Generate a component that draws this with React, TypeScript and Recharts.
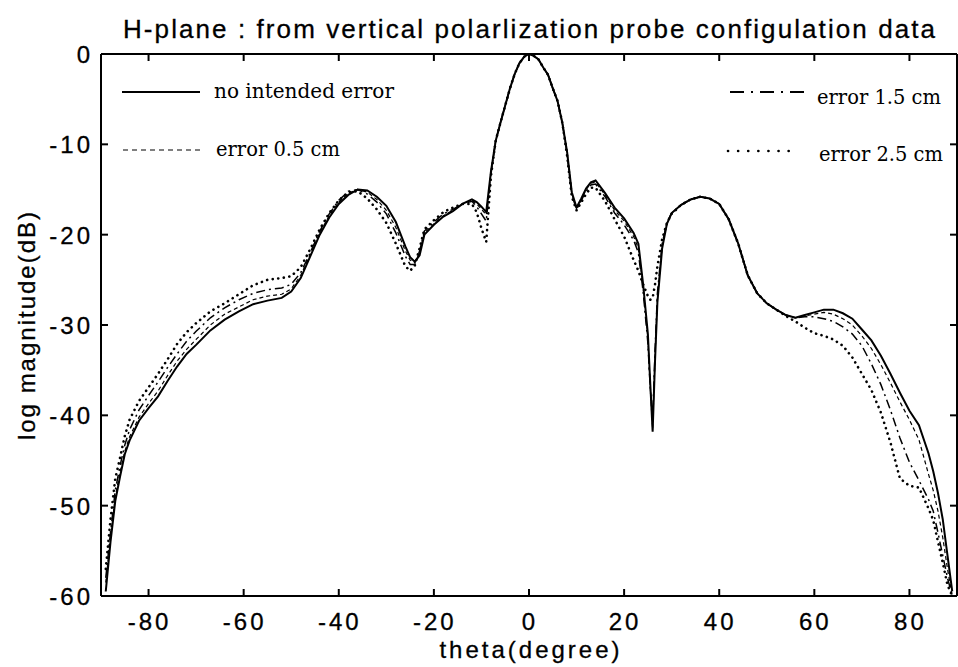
import React from 'react';
import { LineChart, Line, XAxis, YAxis, ReferenceLine } from 'recharts';

// angle grid (degree) shared by all four traces
const theta = [
  -89, -88, -87, -86, -85, -84, -82, -80, -78, -76, -74, -72, -70, -67, -64, -61, -58, -55, -52, -50,
  -48, -46, -44, -42, -40, -38, -36, -34, -32, -30, -28, -26, -25, -24, -23, -22, -20, -18, -16, -14,
  -12, -11, -10, -9, -8, -7, -6, -5, -4, -3, -2, -1, 0, 1, 2, 3, 4, 5, 6, 7,
  8, 9, 10, 11, 12, 13, 14, 16, 18, 20, 22, 23, 24, 25, 25.5, 26, 26.5, 27, 28, 29,
  30, 32, 34, 36, 38, 40, 42, 44, 46, 48, 50, 52, 54, 56, 58, 60, 62, 64, 66, 68,
  70, 72, 74, 76, 78, 80, 82, 84, 85, 86, 87, 88, 89,
];

const noError = [
  -59.5, -54, -49.5, -46.8, -44.3, -42.8, -40.6, -39.2, -37.9, -36.2, -34.6, -33.2, -32.2, -30.6, -29.4, -28.5, -27.7, -27.3, -27.0, -26.3,
  -24.8, -22.4, -20.0, -18.1, -16.6, -15.6, -15.0, -15.1, -15.8, -16.8, -18.6, -21.3, -22.5, -23.0, -22.3, -20.0, -18.9, -18.0, -17.4, -16.6,
  -16.1, -16.4, -16.9, -17.5, -13.0, -9.6, -7.6, -5.7, -3.8, -2.2, -1.0, -0.3, 0, -0.2, -0.6, -1.5, -2.3, -3.8, -5.2, -7.6,
  -10.8, -15.3, -17.0, -16.0, -14.9, -14.2, -14.0, -15.4, -17.0, -18.2, -19.8, -21.0, -25.5, -31.0, -36.5, -41.8, -34.0, -27.5, -21.5, -18.8,
  -17.6, -16.7, -16.1, -15.8, -16.0, -16.6, -18.3, -21.0, -24.5, -26.5, -27.6, -28.3, -28.9, -29.2, -28.9, -28.6, -28.3, -28.3, -28.7, -29.3,
  -30.5, -31.7, -33.4, -35.4, -37.5, -39.5, -41.1, -44.2, -46.2, -48.6, -51.5, -55.5, -59.5,
];

const error05 = [
  -58.5, -53.5, -49.0, -46.3, -44.0, -42.4, -40.2, -38.7, -37.3, -35.6, -34.0, -32.7, -31.6, -30.0, -28.8, -28.0, -27.2, -26.8, -26.6, -26.0,
  -24.5, -22.2, -19.8, -17.9, -16.4, -15.4, -15.0, -15.3, -16.1, -17.3, -19.2, -21.8, -22.8, -23.1, -22.0, -19.8, -18.8, -17.9, -17.3, -16.6,
  -16.2, -16.6, -17.2, -17.8, -13.2, -9.6, -7.6, -5.7, -3.8, -2.2, -1.0, -0.3, 0, -0.2, -0.6, -1.5, -2.3, -3.8, -5.2, -7.6,
  -10.9, -15.5, -17.1, -16.1, -15.0, -14.3, -14.2, -15.6, -17.3, -18.5, -20.2, -21.5, -25.8, -31.5, -37.0, -41.5, -33.5, -27.0, -21.3, -18.8,
  -17.6, -16.7, -16.1, -15.8, -16.0, -16.6, -18.3, -21.0, -24.5, -26.5, -27.6, -28.3, -28.9, -29.2, -29.0, -28.8, -28.6, -28.8, -29.3, -30.0,
  -31.2, -32.6, -34.4, -36.4, -38.5, -40.5, -42.7, -46.5, -48.3, -50.6, -53.5, -57.0, -60.0,
];

const error15 = [
  -58.0, -53.0, -48.3, -45.6, -43.3, -41.6, -39.4, -37.8, -36.3, -34.7, -33.2, -31.8, -30.7, -29.2, -28.1, -27.2, -26.5, -26.1, -25.9, -25.5,
  -24.2, -22.0, -19.6, -17.7, -16.2, -15.2, -15.0, -15.5, -16.4, -17.7, -19.8, -22.4, -23.3, -23.3, -21.8, -19.6, -18.6, -17.7, -17.2, -16.6,
  -16.3, -16.9, -17.7, -18.5, -13.3, -9.6, -7.6, -5.7, -3.8, -2.2, -1.0, -0.3, 0, -0.2, -0.6, -1.5, -2.3, -3.8, -5.2, -7.6,
  -11.0, -15.6, -17.2, -16.2, -15.2, -14.5, -14.4, -15.8, -17.6, -18.9, -20.6, -22.0, -26.3, -32.0, -37.0, -40.5, -33.0, -26.5, -21.0, -18.7,
  -17.6, -16.7, -16.1, -15.8, -16.0, -16.6, -18.3, -21.0, -24.5, -26.5, -27.6, -28.3, -28.9, -29.2, -29.1, -29.1, -29.3, -29.6, -30.2, -31.0,
  -32.3, -34.3, -36.6, -39.4, -42.5, -45.2, -47.2, -49.3, -50.6, -53.0, -55.5, -58.0, -60.0,
];

const error25 = [
  -57.0, -51.5, -47.0, -44.7, -42.3, -40.5, -38.4, -36.9, -35.4, -33.8, -32.1, -30.8, -29.8, -28.5, -27.6, -26.6, -25.6, -25.0, -24.8, -24.6,
  -23.6, -21.6, -19.4, -17.6, -16.2, -15.3, -15.2, -16.0, -17.2, -18.7, -21.0, -23.5, -24.0, -23.4, -21.5, -19.4, -18.4, -17.5, -17.0, -16.6,
  -16.6, -17.5, -19.3, -20.8, -13.5, -9.6, -7.6, -5.7, -3.8, -2.2, -1.0, -0.3, 0, -0.2, -0.6, -1.5, -2.3, -3.8, -5.2, -7.6,
  -11.2, -15.8, -17.3, -16.4, -15.5, -14.8, -14.8, -16.3, -18.3, -20.2, -22.8, -24.0, -25.5, -26.8, -27.2, -27.0, -25.5, -23.5, -20.5, -18.7,
  -17.7, -16.7, -16.1, -15.8, -16.0, -16.6, -18.3, -21.0, -24.5, -26.5, -27.6, -28.3, -29.0, -29.6, -30.3, -30.9, -31.2, -31.6, -32.3, -33.6,
  -35.4, -37.2, -39.7, -43.0, -47.0, -47.8, -48.0, -50.3, -51.6, -54.0, -56.3, -58.8, -60.0,
];

const xTicks = [-80, -60, -40, -20, 0, 20, 40, 60, 80];
const yTicks = [0, -10, -20, -30, -40, -50, -60];

const data = theta.map((t, i) => ({
  theta: t,
  noError: noError[i],
  error05: error05[i],
  error15: error15[i],
  error25: error25[i],
}));

// plot box
const TOP = 54;
const BOTTOM = 596;
const LEFT = 101;
const RIGHT = 957;
const TICK = 7;

const sans = '"Liberation Sans", Arial, sans-serif';
const serif = '"DejaVu Serif", serif';

const XTick = (props: any) => {
  const { x, payload } = props;
  return (
    <g>
      <line x1={x} x2={x} y1={BOTTOM} y2={BOTTOM - TICK} stroke="#000" strokeWidth={2} />
      <line x1={x} x2={x} y1={TOP} y2={TOP + TICK} stroke="#000" strokeWidth={2} />
      <text x={x + 1} y={630} textAnchor="middle" fontFamily={sans} fontSize={24} letterSpacing={3} fill="#000" stroke="#000" strokeWidth={0.3}>
        {payload.value}
      </text>
    </g>
  );
};

const YTick = (props: any) => {
  const { y, payload } = props;
  return (
    <g>
      <line x1={LEFT} x2={LEFT + TICK} y1={y} y2={y} stroke="#000" strokeWidth={2} />
      <line x1={RIGHT} x2={RIGHT - TICK} y1={y} y2={y} stroke="#000" strokeWidth={2} />
      <text x={93} y={y + 9} textAnchor="end" fontFamily={sans} fontSize={24} letterSpacing={3} fill="#000" stroke="#000" strokeWidth={0.3}>
        {payload.value}
      </text>
    </g>
  );
};

export default function App() {
  return (
    <div style={{ position: 'absolute', left: 0, top: 0, width: 958, height: 667, background: '#fff' }}>
      <LineChart width={958} height={667} data={data} margin={{ top: TOP, right: 958 - RIGHT, bottom: 0, left: 0 }}>
        <XAxis
          dataKey="theta"
          type="number"
          domain={[-90, 90]}
          ticks={xTicks}
          allowDataOverflow
          height={667 - BOTTOM}
          axisLine={{ stroke: '#000', strokeWidth: 2 }}
          tickLine={false}
          tick={<XTick />}
        />
        <YAxis
          type="number"
          domain={[-60, 0]}
          ticks={yTicks}
          allowDataOverflow
          width={LEFT}
          axisLine={{ stroke: '#000', strokeWidth: 2 }}
          tickLine={false}
          tick={<YTick />}
        />
        <ReferenceLine y={0} stroke="#000" strokeWidth={2} />
        <ReferenceLine x={90} stroke="#000" strokeWidth={2} />
        <Line dataKey="error25" stroke="#000" strokeWidth={2.6} strokeDasharray="0.1 5.5" strokeLinecap="round" dot={false} isAnimationActive={false} />
        <Line dataKey="error15" stroke="#000" strokeWidth={1.5} strokeDasharray="9 4 2 4" dot={false} isAnimationActive={false} />
        <Line dataKey="error05" stroke="#000" strokeWidth={1.2} strokeDasharray="4 3" dot={false} isAnimationActive={false} />
        <Line dataKey="noError" stroke="#000" strokeWidth={2} dot={false} isAnimationActive={false} />
      </LineChart>
      <svg width={958} height={667} style={{ position: 'absolute', left: 0, top: 0, pointerEvents: 'none' }}>
        <text x={529} y={38} textAnchor="middle" fontFamily={sans} fontSize={26} textLength={812} lengthAdjust="spacing" stroke="#000" strokeWidth={0.3}>
          H-plane : from vertical polarlization probe configulation data
        </text>
        <text x={531} y={658} textAnchor="middle" fontFamily={sans} fontSize={24} letterSpacing={3} stroke="#000" strokeWidth={0.3}>
          theta(degree)
        </text>
        <text x={0} y={0} transform="translate(35 325) rotate(-90)" textAnchor="middle" fontFamily={sans} fontSize={24} letterSpacing={2} stroke="#000" strokeWidth={0.3}>
          log magnitude(dB)
        </text>
        {/* legend */}
        <line x1={122} x2={200} y1={92} y2={92} stroke="#000" strokeWidth={2} />
        <text x={214} y={98} fontFamily={serif} fontSize={21} textLength={180} lengthAdjust="spacingAndGlyphs">no intended error</text>
        <line x1={123} x2={200} y1={150} y2={150} stroke="#000" strokeWidth={1.2} strokeDasharray="5 4" />
        <text x={216} y={156} fontFamily={serif} fontSize={21} textLength={124} lengthAdjust="spacingAndGlyphs">error 0.5 cm</text>
        <line x1={730} x2={807} y1={92} y2={92} stroke="#000" strokeWidth={2.2} strokeDasharray="14 7 2 7" />
        <text x={817} y={104} fontFamily={serif} fontSize={21} textLength={124} lengthAdjust="spacingAndGlyphs">error 1.5 cm</text>
        <line x1={728} x2={792} y1={151} y2={151} stroke="#000" strokeWidth={2.6} strokeDasharray="0.1 10" strokeLinecap="round" />
        <text x={819} y={161} fontFamily={serif} fontSize={21} textLength={124} lengthAdjust="spacingAndGlyphs">error 2.5 cm</text>
      </svg>
    </div>
  );
}
